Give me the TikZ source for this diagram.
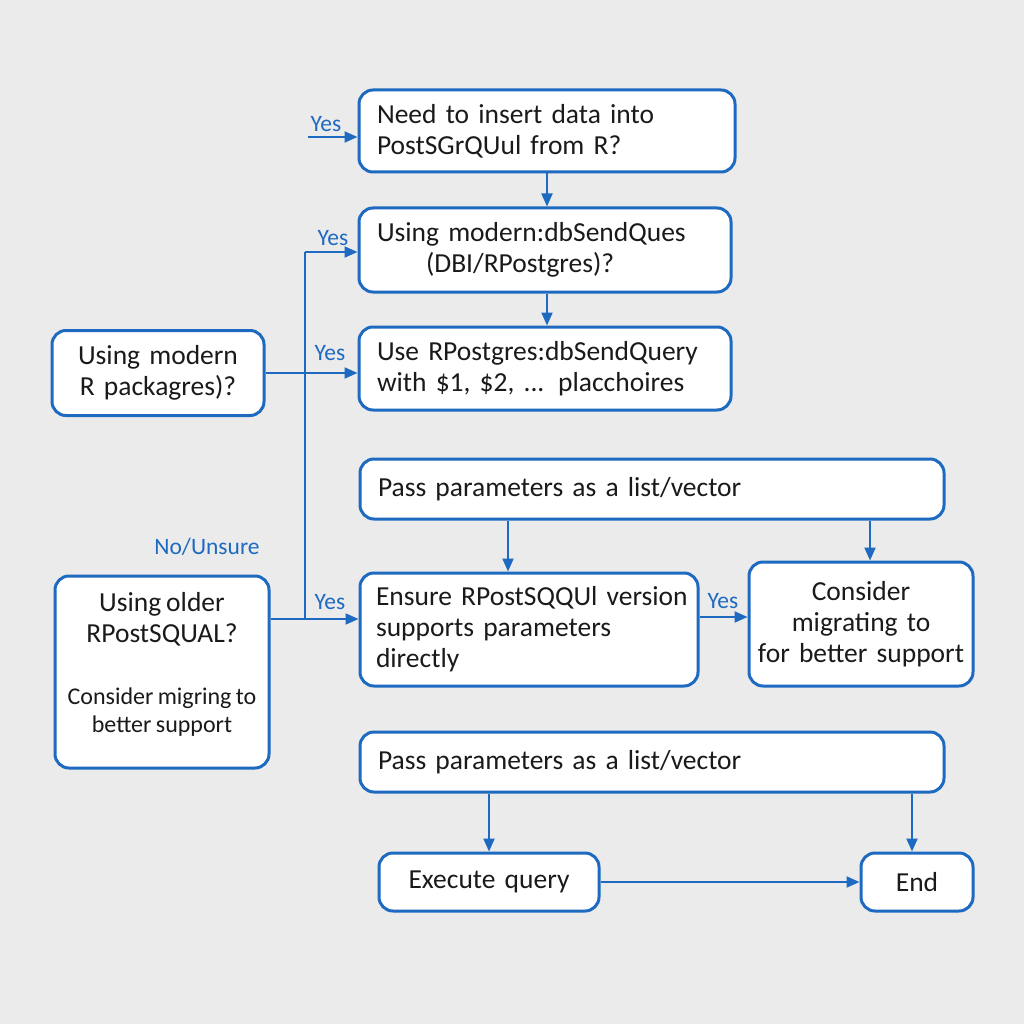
\documentclass[tikz,border=0pt]{standalone}
\usepackage{fontspec}
\setmainfont{Carlito}[WordSpace=0.8]
\usetikzlibrary{arrows.meta}
\definecolor{bl}{HTML}{1E6AC0}
\definecolor{bg}{HTML}{EBEBEB}
\definecolor{tx}{HTML}{1A1A1A}
\newcommand\mainf{\fontsize{27.5}{31}\selectfont}
\newcommand\labf{\fontsize{23.5}{26}\selectfont}
\newcommand\smallf{\fontsize{24}{28}\selectfont}
\tikzset{
 box/.style={draw=bl, line width=3pt, fill=white, rounded corners=14pt, inner xsep=18pt, inner ysep=4pt, font=\mainf, text=tx},
 lbox/.style={box, align=left},
 cbox/.style={box, align=center},
 arr/.style={draw=bl, line width=2pt, -{Triangle[length=13pt,width=11pt]}},
 ln/.style={draw=bl, line width=2pt},
 lab/.style={text=bl, font=\labf, inner sep=0pt},
}
\begin{document}
\begin{tikzpicture}[x=1pt,y=-1pt]
\fill[bg] (0,0) rectangle (1024,1024);
\useasboundingbox (0,0) rectangle (1024,1024);

\node[lbox, text width=340pt, minimum height=82pt] (n1) at (547,131) {Need to insert data into\\PostSGrQUul from R?};
\node[lbox, text width=336pt, minimum height=84pt] (n2) at (545,250) {Using modern:dbSendQues\\\hspace*{49pt}(DBI/RPostgres)?};
\node[lbox, text width=336pt, minimum height=83pt] (n3) at (545,368.5) {Use RPostgres:dbSendQuery\\with \$1, \$2, ... placchoires};
\node[cbox, text width=176pt, minimum height=85pt] (a) at (158,373) {Using modern\\R packagres)?};
\node[lbox, text width=548pt, minimum height=60pt] (p1) at (652,489) {Pass parameters as a list/vector};
\node[lbox, inner xsep=16pt, text width=306pt, minimum height=113pt] (en) at (529,629.5) {\mbox{Ensure RPostSQQUl version}\\\mbox{supports parameters}\\directly};
\node[cbox, inner xsep=8pt, text width=208pt, minimum height=124pt] (cm) at (861,624) {Consider\\migrating to\\\mbox{for better support}};
\node[box, minimum width=214pt, minimum height=192pt] (b) at (162,672) {};
\node[font=\mainf, text=tx, align=center, inner sep=0pt] (b1) at (162,619) {Using older\\RPostSQUAL?};
\node[font=\smallf, text=tx, align=center, inner sep=0pt] (b2) at (162,712) {Consider migring to\\better support};
\node[lbox, text width=548pt, minimum height=60pt] (p2) at (652,762) {Pass parameters as a list/vector};
\node[cbox, text width=184pt, minimum height=58pt] (ex) at (489,882) {Execute query};
\node[cbox, text width=76pt, minimum height=58pt] (end) at (917,882) {End};

% connectors
\coordinate (s1) at (308,137);
\draw[arr] (s1) -- (s1 -| n1.west);
\node[lab] (y1) at (326,124) {Yes};
\draw[arr] (n1.south) -- (n1.south |- n2.north);
\draw[arr] (n1.south |- n2.south) -- (n1.south |- n3.north);

\coordinate (vt) at (305,252);
\coordinate (vb) at (305,619);
\draw[ln] (vb) -- (vt);
\draw[arr] (vt) -- (vt -| n2.west);
\node[lab] (y2) at (333,238) {Yes};
\draw[arr] (a.east) -- (a.east -| n3.west);
\node[lab] (y3) at (330,353) {Yes};
\draw[arr] (b.east |- vb) -- (vb -| en.west);
\node[lab] (y4) at (330,602) {Yes};
\node[lab] (nu) at (207,547) {No/Unsure};

\coordinate (pa) at (508,0);
\coordinate (pb) at (870,0);
\draw[arr] (p1.south -| pa) -- (en.north -| pa);
\draw[arr] (p1.south -| pb) -- (cm.north -| pb);
\coordinate (ey) at (0,617);
\draw[arr] (en.east |- ey) -- (cm.west |- ey);
\node[lab] (y5) at (723,601) {Yes};

\coordinate (pc) at (489,0);
\coordinate (pd) at (912,0);
\draw[arr] (p2.south -| pc) -- (ex.north);
\draw[arr] (p2.south -| pd) -- (end.north -| pd);
\draw[arr] (ex.east) -- (end.west);
\end{tikzpicture}
\end{document}
